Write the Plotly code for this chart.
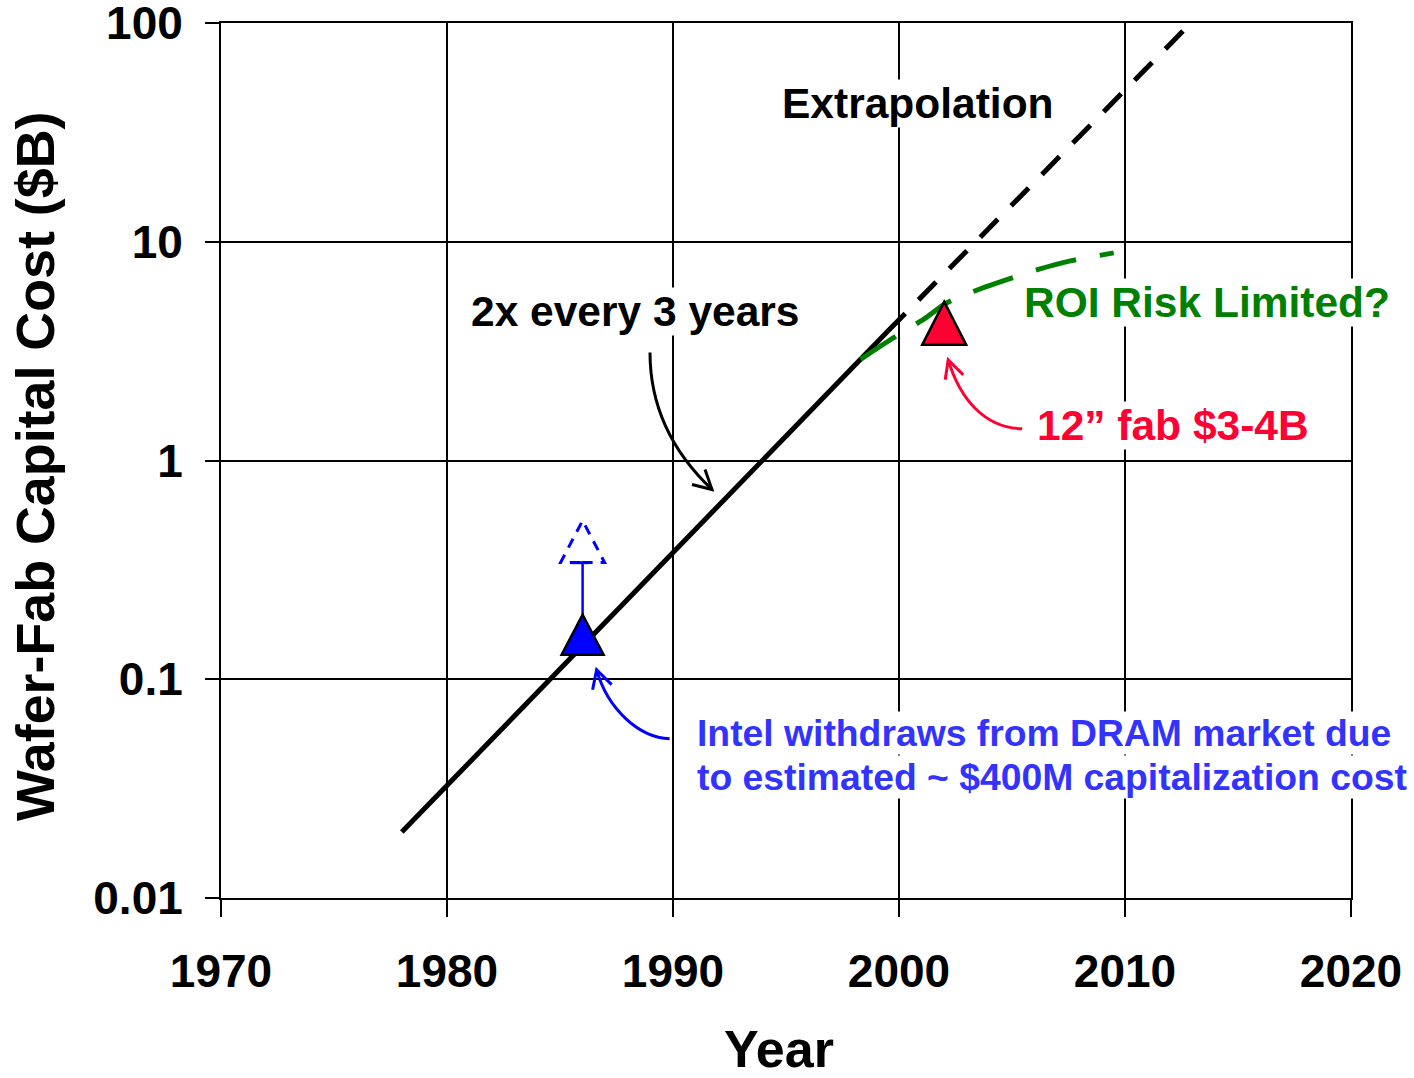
import math
import plotly.graph_objects as go

# ---- data -------------------------------------------------------------
# historical trend: fab cost doubling roughly every 3 years
trend_years = [1978, 1999.5]
trend_cost = [0.02, 3.9]

# extrapolation of the same trend
extrap_years = [1999.5, 2012.7]
extrap_cost = [3.9, 95]

# "ROI risk limited" flattening scenario
roi_years = [1998.3, 1999.5, 2001.2, 2002.1, 2003.8, 2006.2, 2007.4, 2009.5]
roi_cost = [2.9, 3.5, 4.5, 5.25, 6.2, 7.5, 8.1, 8.9]

# marked fabs
intel_year, intel_cost = 1986, 0.15          # Intel DRAM fab
intel_est_cost = 0.4                         # estimated ~$400M
fab12_year, fab12_cost = 2002, 4             # 12" fab $3-4B

x_ticks = [1970, 1980, 1990, 2000, 2010, 2020]
y_ticks = [0.01, 0.1, 1, 10, 100]
y_tick_text = ["0.01", "0.1", "1", "10", "100"]

FONT = "Liberation Sans, Arial, sans-serif"
BLUE_TXT = "#3333FF"
RED = "#FF0033"
GREEN = "#008000"

fig = go.Figure()

fig.add_trace(go.Scatter(x=trend_years, y=trend_cost, mode="lines",
                         line=dict(color="black", width=5), hoverinfo="skip"))
fig.add_trace(go.Scatter(x=extrap_years, y=extrap_cost, mode="lines",
                         line=dict(color="black", width=5, dash="25px,19px"),
                         hoverinfo="skip"))
fig.add_trace(go.Scatter(x=roi_years, y=roi_cost, mode="lines",
                         line=dict(color=GREEN, width=5, dash="42px,24px",
                                   shape="spline", smoothing=0.8),
                         hoverinfo="skip"))


def anchored(path, x, y, **kw):
    """Path shape drawn in pixel offsets around a data point (y up)."""
    d = dict(type="path", xref="x", yref="y", xsizemode="pixel",
             ysizemode="pixel", xanchor=x, yanchor=y, path=path)
    d.update(kw)
    fig.add_shape(**d)


# Intel: solid triangle, error-style stalk and dashed estimate triangle
anchored("M 0,26 L 0,78", intel_year, intel_cost,
         line=dict(color="blue", width=2.5))
anchored("M -12,78 L 6,78", intel_year, intel_cost,
         line=dict(color="blue", width=3))
anchored("M 0,-15 L 22,-15 L 0,27 L -22,-15 Z", intel_year, intel_est_cost,
         line=dict(color="blue", width=3, dash="10px,8px"))
anchored("M -21,-14 L 21,-14 L 0,26 Z", intel_year, intel_cost,
         fillcolor="blue", line=dict(color="black", width=2.5))

# 12" fab triangle
anchored("M -22,-16 L 22,-16 L 0,27 Z", fab12_year, fab12_cost,
         fillcolor=RED, line=dict(color="black", width=2.5))

# curved call-out arrows
anchored("M -23,108 C -23,51 2,6 39,-29", 1990, 1,
         line=dict(color="black", width=3))
anchored("M 19,-24 L 39,-29 L 32,-9", 1990, 1,
         line=dict(color="black", width=3))
anchored("M 78,-100 C 41,-99 16,-71 4,-31", fab12_year, fab12_cost,
         line=dict(color=RED, width=3))
anchored("M 1,-51 L 4,-31 L 19,-46", fab12_year, fab12_cost,
         line=dict(color=RED, width=3))
anchored("M 87,-98 C 57,-97 25,-69 14,-29", intel_year, intel_cost,
         line=dict(color="blue", width=3))
anchored("M 10,-49 L 14,-29 L 29,-44", intel_year, intel_cost,
         line=dict(color="blue", width=3))


def note(text, x, y, size, color="black", xanchor="center"):
    fig.add_annotation(text=text, x=x, y=math.log10(y), xref="x", yref="y",
                       showarrow=False, xanchor=xanchor, yanchor="middle",
                       bgcolor="white", borderpad=0,
                       font=dict(family=FONT, size=size, color=color,
                                 weight="bold"))


note("Extrapolation", 2000.82, 43.0, 42.5)
note("2x every 3 years", 1988.36, 4.82, 42.5)
note("ROI Risk Limited?", 2013.65, 5.3, 42.5, GREEN)
note("12\u201d fab $3-4B", 2012.12, 1.44, 42.5, RED)
note("Intel withdraws from DRAM market due", 1991.0, 0.0568, 37.3,
     BLUE_TXT, "left")
note("to estimated ~ $400M capitalization cost", 1991.0, 0.0357, 37.3,
     BLUE_TXT, "left")

# axis titles
fig.add_annotation(text="Wafer-Fab Capital Cost ($B)", textangle=-90,
                   x=-0.1646, y=0.4926, xref="paper", yref="paper",
                   showarrow=False, xanchor="center", yanchor="middle",
                   font=dict(family=FONT, size=53.8, color="black",
                             weight="bold"))
fig.add_annotation(text="Year", x=0.494, y=-0.173, xref="paper",
                   yref="paper", showarrow=False, xanchor="center",
                   yanchor="middle",
                   font=dict(family=FONT, size=52, color="black",
                             weight="bold"))

tick_font = dict(family=FONT, size=46, color="black", weight="bold")

fig.update_xaxes(range=[1970, 2020], tickvals=x_ticks, showgrid=True,
                 gridcolor="black", gridwidth=2, showline=True,
                 linecolor="black", linewidth=2, mirror=True, zeroline=False,
                 ticks="outside", ticklen=17, tickwidth=2, tickcolor="black",
                 tickfont=tick_font, ticklabelstandoff=15,
                 ticklabeloverflow="allow", automargin=False)
fig.update_yaxes(type="log", range=[-2.0005, 2.0005], tickvals=y_ticks,
                 ticktext=y_tick_text, showgrid=True, gridcolor="black",
                 gridwidth=2, showline=True, linecolor="black", linewidth=2,
                 mirror=True, zeroline=False, ticks="outside", ticklen=14,
                 tickwidth=2, tickcolor="black", tickfont=tick_font,
                 ticklabelstandoff=13, ticklabeloverflow="allow",
                 automargin=False)

fig.update_layout(width=1414, height=1078, autosize=False,
                  margin=dict(l=221, r=63, t=23, b=180, autoexpand=False),
                  paper_bgcolor="white", plot_bgcolor="white",
                  showlegend=False, font=dict(family=FONT))

fig.write_html("out.html")
